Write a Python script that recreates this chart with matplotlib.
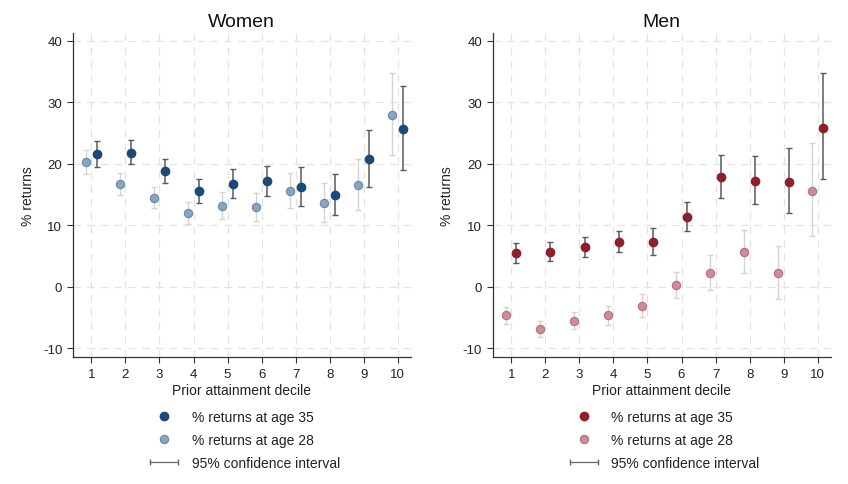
import matplotlib
matplotlib.use("Agg")
import matplotlib.pyplot as plt
from matplotlib.lines import Line2D
from matplotlib.legend_handler import HandlerLine2D
import numpy as np

plt.rcParams['font.family'] = ['Liberation Sans', 'DejaVu Sans']

deciles = [1, 2, 3, 4, 5, 6, 7, 8, 9, 10]

women_35 = [21.6, 21.8, 18.8, 15.6, 16.7, 17.2, 16.3, 14.9, 20.8, 25.7]
women_35_lo = [19.5, 19.95, 16.9, 13.6, 14.4, 14.8, 13.2, 11.6, 16.3, 19.0]
women_35_hi = [23.7, 23.9, 20.8, 17.5, 19.1, 19.7, 19.5, 18.3, 25.5, 32.7]
women_28 = [20.3, 16.7, 14.5, 12.0, 13.2, 12.9, 15.6, 13.6, 16.5, 27.9]
women_28_lo = [18.3, 14.9, 12.8, 10.2, 11.1, 10.7, 12.8, 10.5, 12.5, 21.35]
women_28_hi = [22.3, 18.5, 16.3, 13.8, 15.4, 15.2, 18.5, 16.9, 20.7, 34.7]

men_35 = [5.5, 5.7, 6.4, 7.3, 7.3, 11.3, 17.9, 17.2, 17.1, 25.8]
men_35_lo = [3.9, 4.2, 4.9, 5.6, 5.2, 9.0, 14.5, 13.4, 12.05, 17.5]
men_35_hi = [7.1, 7.3, 8.05, 9.1, 9.6, 13.8, 21.5, 21.3, 22.5, 34.7]
men_28 = [-4.6, -6.9, -5.5, -4.65, -3.1, 0.27, 2.2, 5.6, 2.2, 15.6]
men_28_lo = [-6.0, -8.2, -6.8, -6.2, -4.9, -1.8, -0.5, 2.2, -2.05, 8.3]
men_28_hi = [-3.2, -5.6, -4.05, -3.1, -1.1, 2.4, 5.2, 9.2, 6.6, 23.4]

yticks = [-10, 0, 10, 20, 30, 40]

fig = plt.figure(figsize=(8.48, 4.85), dpi=100)
axW = fig.add_axes([0.0857, 0.2612, 0.3986, 0.668])
axM = fig.add_axes([0.5809, 0.2612, 0.3986, 0.668])

def panel(ax, title, v35, lo35, hi35, v28, lo28, hi28, c35, c28, e28, legx):
    x = np.array(deciles, dtype=float)
    v35 = np.array(v35); v28 = np.array(v28)
    ax.errorbar(x - 0.16, v28, yerr=[v28 - np.array(lo28), np.array(hi28) - v28],
                fmt='none', ecolor='#d4d4d4', elinewidth=1.0, capsize=2.5, capthick=1.0, zorder=2)
    ax.errorbar(x + 0.15, v35, yerr=[v35 - np.array(lo35), np.array(hi35) - v35],
                fmt='none', ecolor='#5a5a5a', elinewidth=1.1, capsize=2.5, capthick=1.0, zorder=2)
    ax.plot(x - 0.16, v28, 'o', color=c28, mec=e28, mew=0.8, ms=6, zorder=3, linestyle='none')
    ax.plot(x + 0.15, v35, 'o', color=c35, mec=c35, ms=6, zorder=4, linestyle='none')
    ax.set_xlim(0.45, 10.38)
    ax.set_ylim(-11.46, 41.2)
    ax.set_xticks(deciles)
    ax.set_xticklabels([str(d) for d in deciles])
    ax.set_yticks(yticks)
    ax.set_yticklabels([str(t) for t in yticks])
    ax.grid(True, color='#e3e3e3', linestyle=(0, (6, 5)), linewidth=0.9)
    ax.set_axisbelow(True)
    for s in ['top', 'right']:
        ax.spines[s].set_visible(False)
    for s in ['left', 'bottom']:
        ax.spines[s].set_color('#333333')
        ax.spines[s].set_linewidth(0.9)
    ax.tick_params(axis='both', direction='out', length=4, width=0.8, color='#333333',
                   labelsize=9.5, labelcolor='#222222')
    ax.set_title(title, fontsize=14, color='#111111', pad=5)
    ax.set_xlabel('Prior attainment decile', fontsize=10, color='#222222', labelpad=2)
    ax.set_ylabel('% returns', fontsize=10, color='#222222', labelpad=6)

    h35 = Line2D([], [], color=c35, marker='o', linestyle='none', ms=6)
    h28 = Line2D([], [], color=c28, mec=e28, mew=0.8, marker='o', linestyle='none', ms=6)
    hci = Line2D([], [], color='#666666', marker='|', ms=5, lw=0.9)
    leg = fig.legend([h35, h28, hci],
                     ['% returns at age 35', '% returns at age 28', '95% confidence interval'],
                     loc='upper left', bbox_to_anchor=(legx, 0.152), frameon=False,
                     fontsize=10, handlelength=2.6, handletextpad=0.7, labelspacing=0.62,
                     borderaxespad=0, borderpad=0,
                     handler_map={hci: HandlerLine2D(numpoints=2), h35: HandlerLine2D(numpoints=1),
                                  h28: HandlerLine2D(numpoints=1)})
    for t in leg.get_texts():
        t.set_color('#222222')

panel(axW, 'Women', women_35, women_35_lo, women_35_hi, women_28, women_28_lo, women_28_hi,
      '#1b4a78', '#8aa4bf', '#6a89aa', 0.172)
panel(axM, 'Men', men_35, men_35_lo, men_35_hi, men_28, men_28_lo, men_28_hi,
      '#8e1f2b', '#cc8e95', '#b3737b', 0.667)

fig.savefig('out.png', dpi=100, facecolor='white')
